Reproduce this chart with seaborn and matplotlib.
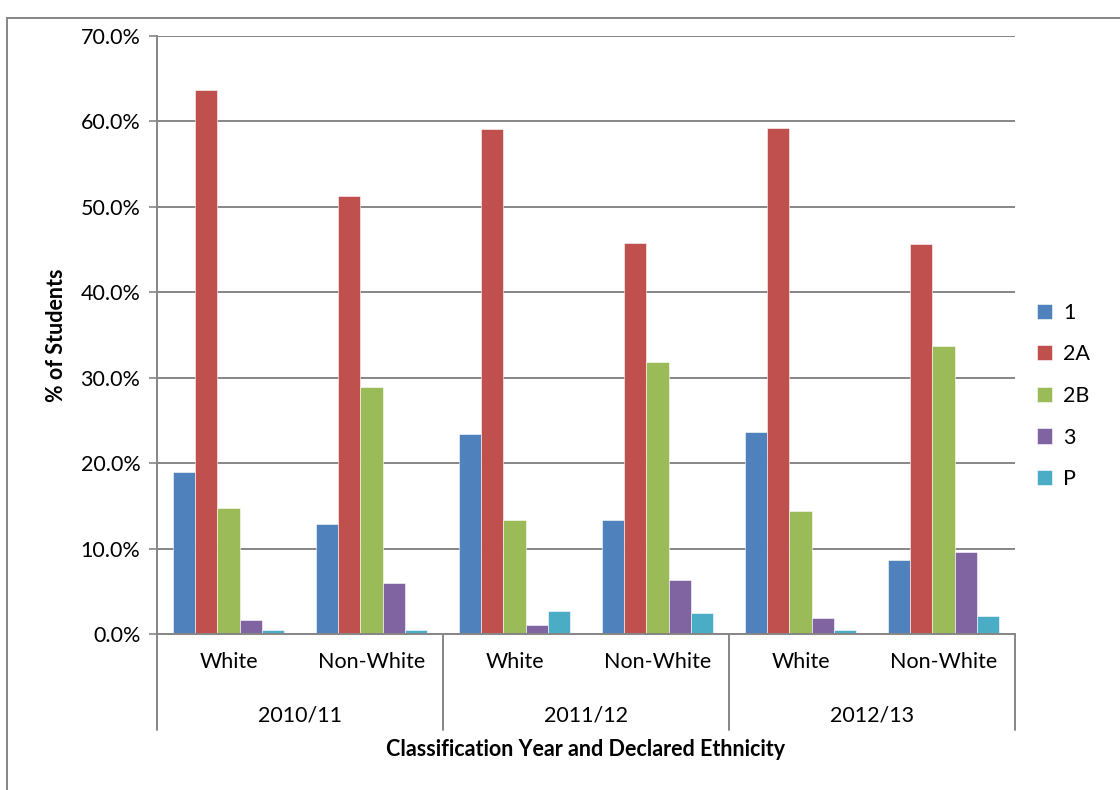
import matplotlib
matplotlib.use("Agg")
import matplotlib.pyplot as plt
import matplotlib.transforms as mtransforms
from matplotlib.patches import Rectangle
import seaborn as sns
import pandas as pd

# Classification results by year and declared ethnicity (% of students)
years = ["2010/11", "2011/12", "2012/13"]
ethnicities = ["White", "Non-White"]
classes = ["1", "2A", "2B", "3", "P"]

pct_1 = [19.0, 12.9, 23.4, 13.3, 23.6, 8.7]
pct_2A = [63.7, 51.3, 59.1, 45.8, 59.2, 45.6]
pct_2B = [14.8, 28.9, 13.4, 31.8, 14.4, 33.7]
pct_3 = [1.6, 6.0, 1.1, 6.3, 1.9, 9.6]
pct_P = [0.5, 0.5, 2.7, 2.4, 0.5, 2.1]

colors = ["#4F81BD", "#C0504D", "#9BBB59", "#8064A2", "#4BACC6"]

groups = [f"{y}|{e}" for y in years for e in ethnicities]
series = dict(zip(classes, [pct_1, pct_2A, pct_2B, pct_3, pct_P]))
rows = []
for cls, vals in series.items():
    for g, v in zip(groups, vals):
        rows.append({"group": g, "cls": cls, "pct": v})
df = pd.DataFrame(rows)

sns.set_style("white")
plt.rcParams["font.family"] = ["Lato", "DejaVu Sans"]
plt.rcParams["text.color"] = "black"
FS = 15.5

fig = plt.figure(figsize=(11.2, 7.9), dpi=100)
ax = fig.add_axes([157 / 1120, 1 - 634 / 790, (1015 - 157) / 1120, (634 - 36) / 790])

sns.barplot(data=df, x="group", y="pct", hue="cls", order=groups,
            hue_order=classes, palette=colors, width=0.77, gap=0,
            edgecolor="white", linewidth=0.4, saturation=1, ax=ax)

grid_c = "#868686"
ax.set_ylim(0, 70)
ax.set_xlim(-0.5, len(groups) - 0.5)
ax.set_yticks(range(0, 71, 10))
ax.set_yticklabels([f"{t:.1f}%" for t in range(0, 71, 10)], fontsize=FS,
                   color="black")
ax.yaxis.grid(True, color=grid_c, linewidth=1.4)
ax.set_axisbelow(True)
ax.tick_params(axis="y", length=6, width=1.2, color=grid_c, pad=6, left=True)
for side in ["top", "right"]:
    ax.spines[side].set_visible(False)
for side in ["left", "bottom"]:
    ax.spines[side].set_color(grid_c)
    ax.spines[side].set_linewidth(1.4)

# Lower level: ethnicity labels
ax.set_xticks(range(len(groups)))
ax.set_xticklabels([g.split("|")[1] for g in groups], fontsize=FS,
                   color="black")
ax.tick_params(axis="x", length=0, pad=13)

ax.set_xlabel("")
ax.set_ylabel("% of Students", fontsize=FS, fontweight="bold", labelpad=10,
              color="black")

# Upper level: year labels and group dividers
trans = mtransforms.blended_transform_factory(ax.transData, ax.transAxes)
div_bottom = -(730 - 634) / 598
for i, y in enumerate(years):
    ax.text(2 * i + 0.5, -(715 - 634) / 598, y, transform=trans,
            ha="center", va="center", fontsize=FS)
for xd in [-0.5, 1.5, 3.5, 5.5]:
    ax.plot([xd, xd], [0, div_bottom], transform=trans, color=grid_c,
            linewidth=1.4, clip_on=False)

ax.text(0.5, -(750 - 634) / 598, "Classification Year and Declared Ethnicity",
        transform=ax.transAxes, ha="center", va="center",
        fontsize=FS, fontweight="bold")

# Legend on the right
handles, labels = ax.get_legend_handles_labels()
ax.legend(handles, labels, loc="center left",
          bbox_to_anchor=(1018 / 1120, 1 - 396 / 790),
          bbox_transform=fig.transFigure, frameon=False, fontsize=FS,
          handlelength=0.7, handleheight=0.7, handletextpad=0.5,
          labelspacing=1.0)

# Chart area border
fig.patches.append(Rectangle((7 / 1120, -0.05), 1.2, 1 - 18 / 790 + 0.05,
                             transform=fig.transFigure, fill=False,
                             edgecolor=grid_c, linewidth=1.4))

fig.savefig("out.png", dpi=100, facecolor="white")
